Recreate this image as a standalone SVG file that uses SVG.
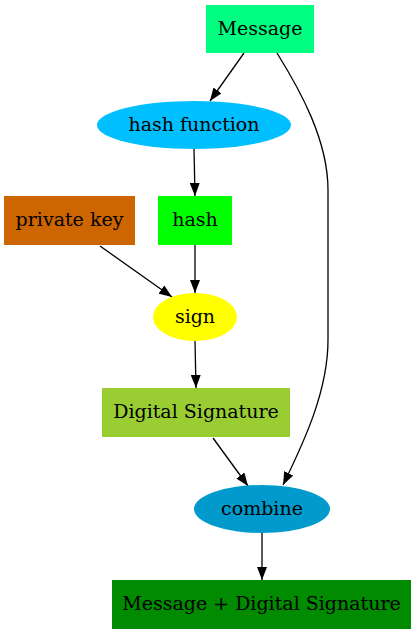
<svg xmlns="http://www.w3.org/2000/svg" width="417" height="635" viewBox="0 0 417 635">
<style>
text{font-family:"DejaVu Serif","Liberation Serif",serif;font-size:19px;text-anchor:middle;fill:#000}
.e{fill:none;stroke:#000;stroke-width:1.3}
</style>
<defs>
<marker id="a" viewBox="0 0 13 10" refX="13" refY="5" markerWidth="13" markerHeight="10" markerUnits="userSpaceOnUse" orient="auto">
<path d="M0,0 L13,5 L0,10 Z" fill="#000"/>
</marker>
</defs>
<rect width="417" height="635" fill="#fff"/>
<g id="edges">
<path class="e" marker-end="url(#a)" d="M244,53 L210,101"/>
<path class="e" marker-end="url(#a)" d="M277,53 C300,90 328,140 328,190 L328,340 C328,390 305,440 283,485"/>
<path class="e" marker-end="url(#a)" d="M194,149 L195,196"/>
<path class="e" marker-end="url(#a)" d="M100,246 L172,297"/>
<path class="e" marker-end="url(#a)" d="M195,245 L195,293"/>
<path class="e" marker-end="url(#a)" d="M195,341 L196,388"/>
<path class="e" marker-end="url(#a)" d="M213,438 L248,486"/>
<path class="e" marker-end="url(#a)" d="M262,533 L262,580"/>
</g>
<g id="message"><rect x="206" y="5" width="108" height="48" fill="#00ff80"/><text x="260" y="34.5">Message</text></g>
<g id="hashfunction"><ellipse cx="194" cy="125" rx="97" ry="24" fill="#00bfff"/><text x="194" y="130.5">hash function</text></g>
<g id="privatekey"><rect x="4" y="196" width="131" height="49" fill="#cd6600"/><text x="69.5" y="226">private key</text></g>
<g id="hash"><rect x="158" y="196" width="74" height="49" fill="#00ff00"/><text x="195" y="226">hash</text></g>
<g id="sign"><ellipse cx="195" cy="317" rx="42" ry="24" fill="#ffff00"/><text x="195" y="322.5">sign</text></g>
<g id="digitalsignature"><rect x="102" y="388" width="188" height="49" fill="#9acd32"/><text x="196" y="418">Digital Signature</text></g>
<g id="combine"><ellipse cx="262" cy="509" rx="68" ry="24" fill="#009acd"/><text x="262" y="514.5">combine</text></g>
<g id="result"><rect x="112" y="580" width="299" height="49" fill="#008b00"/><text x="261.5" y="610">Message + Digital Signature</text></g>
</svg>
